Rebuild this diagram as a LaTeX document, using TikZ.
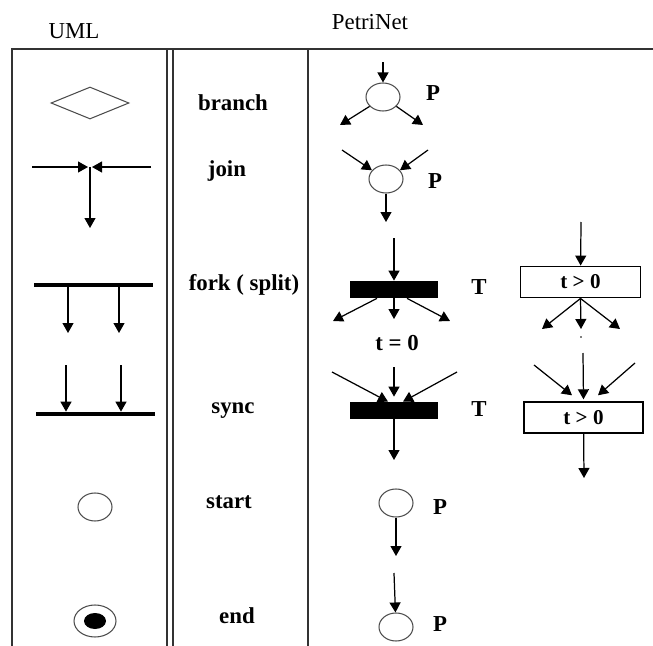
\documentclass[tikz,border=0pt]{standalone}
\usepackage{fontspec}
\setmainfont{Liberation Serif}
\usetikzlibrary{arrows.meta,shapes.geometric}

\begin{document}
\begin{tikzpicture}[x=0.2mm, y=-0.2mm,
  arr/.style={-{Triangle[length=2mm,width=2.2mm]}, line width=0.7pt},
  grid/.style={line width=1.2pt, black!80},
  place/.style={ellipse, draw=black!70, line width=0.6pt, minimum width=6.8mm, minimum height=5.6mm, inner sep=0pt},
  ubar/.style={rectangle, fill=black, minimum width=23.8mm, minimum height=0.8mm, inner sep=0pt},
  tbar/.style={rectangle, fill=black, minimum width=17.6mm, minimum height=3.4mm, inner sep=0pt},
  tbox/.style={rectangle, draw, line width=0.8pt, minimum width=24mm, minimum height=6.3mm, inner sep=0pt, font=\fontsize{12}{14}\selectfont\bfseries},
  lbl/.style={font=\fontsize{13}{15}\selectfont\bfseries},
  head/.style={font=\fontsize{13}{15}\selectfont}]

\useasboundingbox (0,0) rectangle (653,646);

% Headings
\node[head] (uml) at (74,31) {UML};
\node[head] (pn) at (370,22) {PetriNet};

% Table lines
\draw[grid] (12,646) -- (12,49) -- (653,49);
\draw[grid] (167,49) -- (167,646);
\draw[grid] (173,49) -- (173,646);
\draw[grid] (308,49) -- (308,646);

% UML: branch
\node[diamond, draw=black!70, line width=0.6pt, minimum width=15.6mm, minimum height=6.4mm, aspect=2.4, inner sep=0pt] (dia) at (90,103) {};

% UML: join
\coordinate (jl) at (32,167);
\coordinate (jr) at (151,167);
\coordinate (jml) at (88,167);
\coordinate (jmr) at (92,167);
\coordinate (jm) at (90,167);
\coordinate (jd) at (90,228);
\draw[arr] (jl) -- (jml);
\draw[arr] (jr) -- (jmr);
\draw[arr] (jm) -- (jd);

% UML: fork
\node[ubar] (ufork) at (93.5,285) {};
\coordinate (uf1) at (68,333);
\coordinate (uf2) at (119,333);
\draw[arr] (ufork.south -| uf1) -- (uf1);
\draw[arr] (ufork.south -| uf2) -- (uf2);

% UML: sync
\node[ubar] (usync) at (95.5,414) {};
\coordinate (us1) at (66,365);
\coordinate (us2) at (121,365);
\draw[arr] (us1) -- (usync.north -| us1);
\draw[arr] (us2) -- (usync.north -| us2);

% UML: start and end
\node[place] (ustart) at (95,507) {};
\node[place, minimum width=8.4mm, minimum height=6.4mm] (uend) at (95,621) {};
\node[ellipse, fill=black, minimum width=4.4mm, minimum height=3.2mm, inner sep=0pt] (uendin) at (95,621) {};

% Names
\node[lbl] (lbranch) at (233,103) {branch};
\node[lbl] (ljoin) at (227,171) {join};
\node[lbl] (lfork) at (244,285) {fork ( split)};
\node[lbl] (lsync) at (233,411) {sync};
\node[lbl] (lstart) at (229,502) {start};
\node[lbl] (lend) at (237,616) {end};

% PetriNet: branch
\node[place] (pb) at (383,97) {};
\coordinate (pbin) at (383,62);
\coordinate (pbl) at (340,125);
\coordinate (pbr) at (423,125);
\draw[arr] (pbin) -- (pb);
\draw[arr] (pb.-145) -- (pbl);
\draw[arr] (pb.-35) -- (pbr);
\node[lbl] (pbp) at (433,93) {P};

% PetriNet: join
\node[place] (pj) at (386,179) {};
\coordinate (pjl) at (342,150);
\coordinate (pjr) at (428,150);
\coordinate (pjout) at (386,222);
\draw[arr] (pjl) -- (pj.148);
\draw[arr] (pjr) -- (pj.32);
\draw[arr] (pj) -- (pjout);
\node[lbl] (pjp) at (435,181) {P};

% PetriNet: fork
\node[tbar] (fb) at (394,289.5) {};
\coordinate (fbin) at (394,238);
\coordinate (fb1) at (333,321);
\coordinate (fb2) at (394,319);
\coordinate (fb3) at (450,321);
\draw[arr] (fbin) -- (fb);
\draw[arr] ([xshift=-3.4mm]fb.south) -- (fb1);
\draw[arr] (fb) -- (fb2);
\draw[arr] ([xshift=2.6mm]fb.south) -- (fb3);
\node[lbl] (fbt) at (479,287) {T};
\node[lbl] (tzero) at (397,343) {t = 0};

\node[tbox] (rb1) at (580.5,282) {t > 0};
\coordinate (rb1in) at (581,222);
\coordinate (rb11) at (542,329);
\coordinate (rb12) at (581,329);
\coordinate (rb13) at (620,329);
\draw[arr] (rb1in) -- (rb1);
\draw[arr] (rb1.south) -- (rb11);
\draw[arr] (rb1.south) -- (rb12);
\draw[arr] (rb1.south) -- (rb13);
\fill (581,337) circle (0.8);

% PetriNet: sync
\node[tbar] (sb) at (394,410.5) {};
\coordinate (sb1) at (332,372);
\coordinate (sb2) at (394,367);
\coordinate (sb3) at (457,372);
\coordinate (sbout) at (394,460);
\draw[arr] (sb1) -- ([xshift=-1.2mm]sb.north);
\draw[arr] (sb2) -- ([yshift=1mm]sb.north);
\draw[arr] (sb3) -- ([xshift=1.8mm]sb.north);
\draw[arr] (sb) -- (sbout);
\node[lbl] (sbt) at (479,409) {T};

\node[tbox, minimum width=23.8mm, minimum height=6.2mm] (rb2) at (583.5,417.5) {t > 0};
\coordinate (rb21) at (534,365);
\coordinate (rb22) at (583,353);
\coordinate (rb23) at (635,363);
\coordinate (rb2out) at (584,478);
\draw[arr] (rb21) -- ([xshift=-2.3mm,yshift=1.2mm]rb2.north);
\draw[arr] (rb22) -- ([yshift=0.4mm]rb2.north);
\draw[arr] (rb23) -- ([xshift=2.9mm,yshift=1.2mm]rb2.north);
\draw[arr] (rb2) -- (rb2out);

% PetriNet: start and end
\node[place] (ps) at (396,503) {};
\coordinate (psout) at (396,556);
\draw[arr] (ps) -- (psout);
\node[lbl] (psp) at (440,507) {P};

\node[place] (pe) at (396,627) {};
\coordinate (pein) at (394,573);
\draw[arr] (pein) -- (pe);
\node[lbl] (pep) at (440,624) {P};

\end{tikzpicture}
\end{document}
